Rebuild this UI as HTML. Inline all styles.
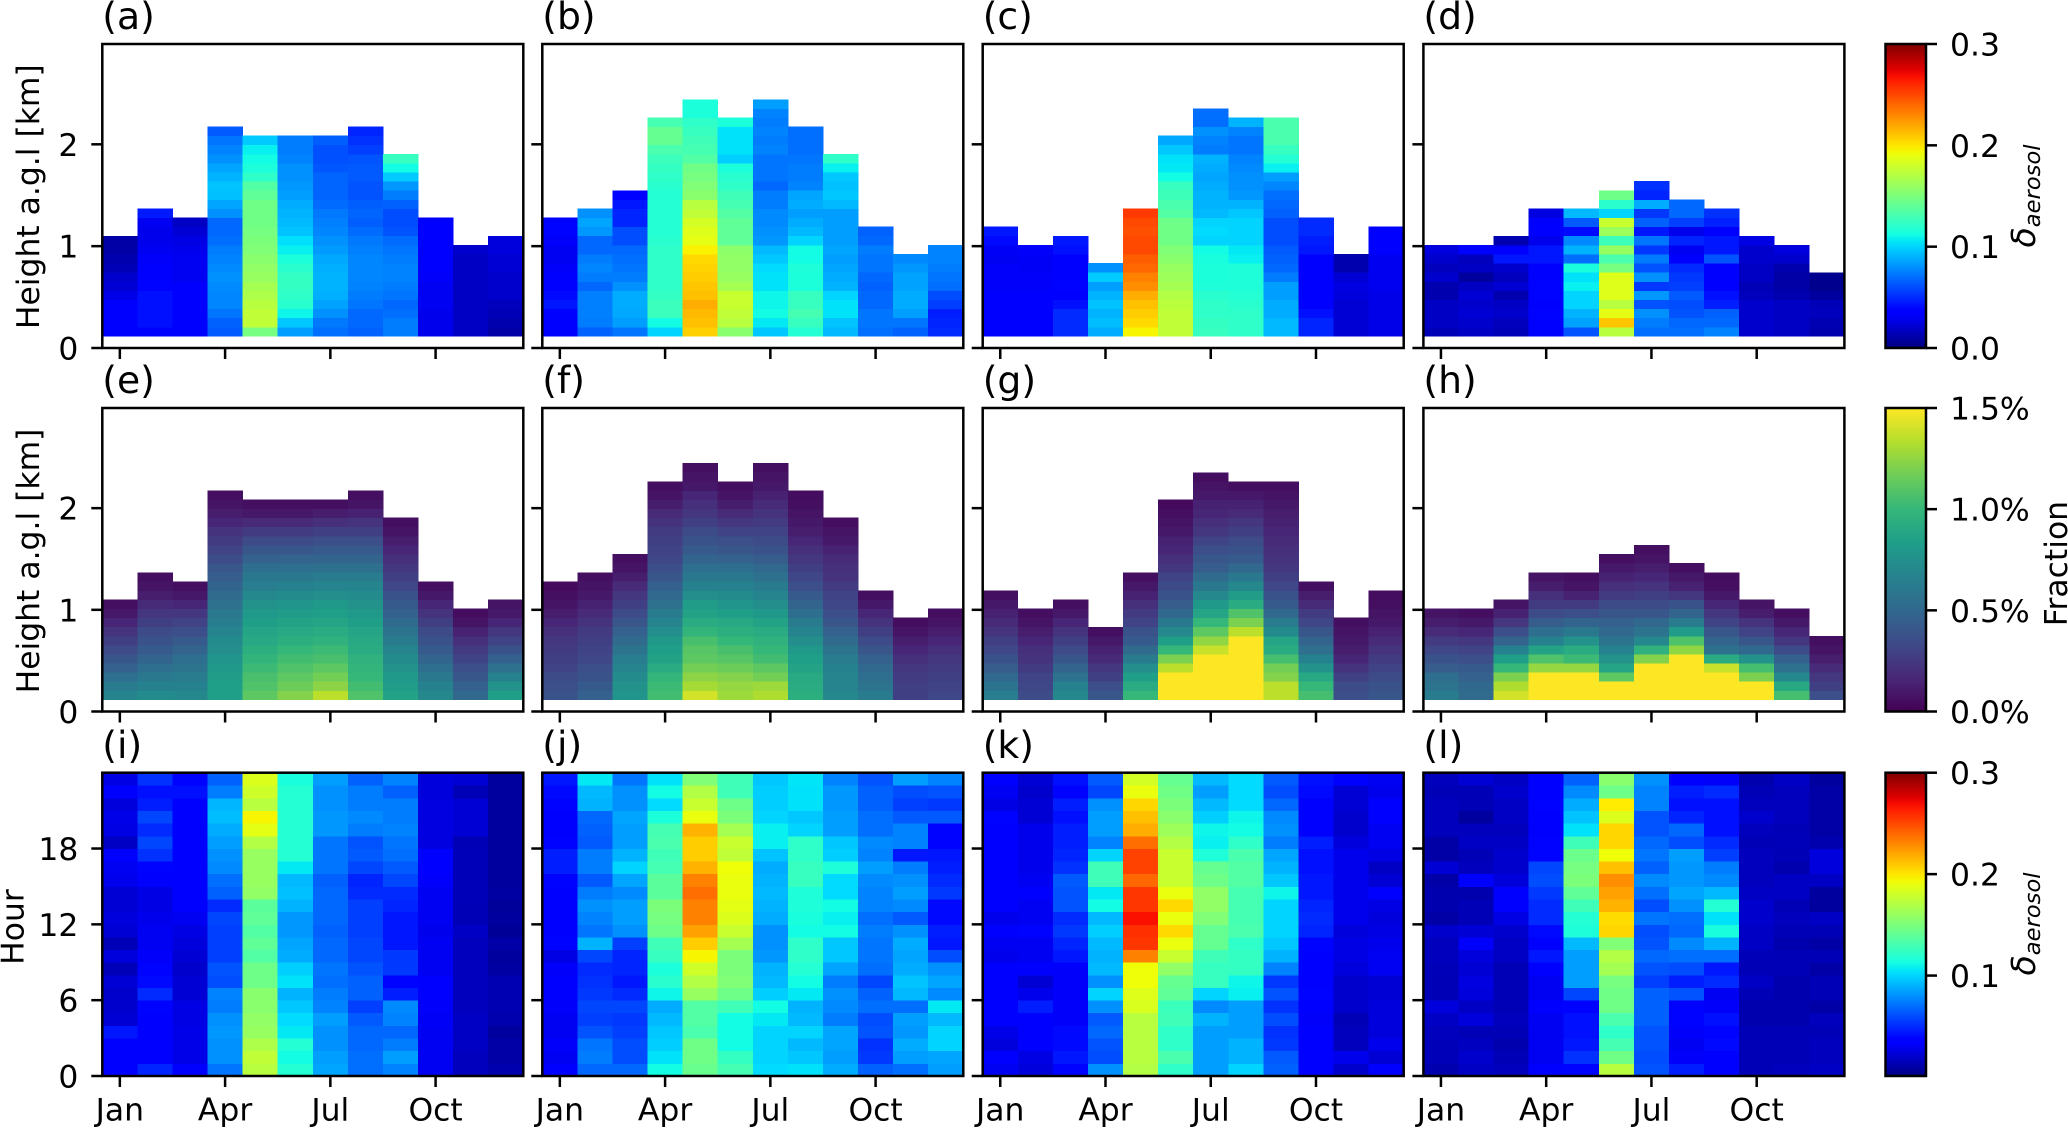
<!DOCTYPE html>
<html lang="en">
<head>
<meta charset="utf-8">
<title>Aerosol depolarization ratio seasonal panels</title>
<style>
html,body{margin:0;padding:0;background:#fff;width:2068px;height:1128px;overflow:hidden}
svg{display:block}
text{font-family:"DejaVu Sans","Liberation Sans",sans-serif;fill:#000}
</style>
</head>
<body>
<svg id="figure" xmlns="http://www.w3.org/2000/svg" width="2068" height="1128" viewBox="0 0 2068 1128">
<defs id="defs"></defs>
</svg>
<script>
// ---------- shared categories and tick labels ----------
const monthTickIndex = [0, 3, 6, 9];
const monthTickLabels = ["Jan", "Apr", "Jul", "Oct"];
const heightTicks = [0, 1, 2];
const hourTicks = [0, 6, 12, 18];
const panelLetters = ["(a)","(b)","(c)","(d)","(e)","(f)","(g)","(h)","(i)","(j)","(k)","(l)"];
const deltaTicks = [0.0, 0.1, 0.2, 0.3];
const deltaTickLabels = ["0.0", "0.1", "0.2", "0.3"];
const fractionTicks = [0, 0.5, 1.0, 1.5];
const fractionTickLabels = ["0.0%", "0.5%", "1.0%", "1.5%"];
const hourlyDeltaTicks = [0.1, 0.2, 0.3];
const hourlyDeltaTickLabels = ["0.1", "0.2", "0.3"];

// ---------- row 1: delta_aerosol x 1000, per month, per height bin (bottom to top) ----------
const panelA = [
[33,33,33,33,27,22,20,14,12,10,10],
[36,42,42,42,42,38,36,35,32,30,28,28,30,45],
[33,33,33,33,33,33,30,30,30,28,26,22,18],
[64,66,72,77,77,78,80,78,76,74,70,68,68,80,86,94,95,90,86,80,76,72,64],
[148,175,175,172,168,165,160,158,155,152,150,148,146,146,146,140,135,122,115,112,108,97],
[84,96,110,120,122,124,124,120,115,108,103,95,92,90,88,84,82,80,80,76,74,74],
[70,73,80,85,89,90,90,89,87,83,80,77,75,73,69,67,67,67,63,61,61,65],
[66,68,68,72,74,76,77,77,77,75,73,69,65,67,65,62,62,64,64,62,56,52,48],
[74,74,70,68,72,74,76,76,74,72,69,62,60,60,66,74,82,97,112,125],
[28,28,28,30,30,30,32,34,35,36,36,36,34],
[18,18,18,18,18,18,18,18,18,20],
[10,12,14,16,20,20,20,22,22,24,24]
];
const panelB = [
[34,34,34,44,40,36,36,32,30,30,32,38,38],
[66,74,75,75,75,68,74,77,74,68,68,82,86,80],
[72,84,87,88,88,80,74,72,70,68,60,60,48,48,44,38],
[100,112,126,126,124,122,122,122,122,122,120,118,118,118,118,118,120,122,124,126,132,142,142,130],
[207,212,214,218,212,210,208,206,204,196,188,186,182,175,172,155,152,148,146,135,130,128,125,122,115,115],
[155,172,175,178,178,165,160,158,158,156,140,140,140,135,130,128,122,120,115,98,104,104,104,115],
[96,106,112,110,110,104,104,102,96,92,82,80,78,78,74,74,68,72,72,72,76,74,76,74,76,84],
[118,125,130,125,125,115,115,116,112,112,100,92,88,84,88,86,76,74,74,72,70,70,70],
[92,95,104,104,100,90,88,86,84,86,84,84,84,84,92,96,94,96,108,122],
[70,72,72,68,68,66,68,72,72,74,68,66],
[66,72,84,88,88,85,85,82,78],
[50,48,46,56,60,70,72,74,76,76]
];
const panelC = [
[33,33,33,33,33,32,32,32,30,31,40,44],
[33,33,33,33,33,32,32,31,31,32],
[50,50,50,42,36,38,36,36,36,42,44],
[88,93,90,95,90,84,97,80],
[195,204,208,212,218,228,232,240,243,250,250,248,250,255],
[175,175,175,173,170,165,162,160,155,152,146,146,145,135,132,127,125,112,106,104,96,87],
[125,124,122,122,120,116,115,115,114,112,100,102,100,92,90,90,88,86,88,90,74,76,80,70,70],
[122,122,122,120,118,116,116,116,108,106,100,100,100,96,90,82,80,80,78,76,72,72,76,90],
[92,92,88,88,84,84,74,68,66,64,60,60,60,66,68,70,77,84,108,118,125,132,132,132],
[48,48,42,36,34,36,36,36,36,44,46,50,50],
[22,22,22,22,24,25,22,12,12],
[27,27,27,27,27,29,29,29,29,33,35,35]
];
const panelD = [
[14,18,18,18,12,12,20,16,20,24],
[18,20,22,20,22,18,8,18,16,34],
[15,16,20,18,12,22,16,20,44,34,12],
[34,34,38,34,38,38,33,33,44,44,28,33,33,25],
[62,85,90,100,100,108,104,114,70,90,78,40,64,92],
[172,210,188,172,186,186,186,148,132,160,127,162,178,100,120,145],
[70,74,80,62,82,54,80,62,74,54,72,44,66,54,88,48,52],
[70,68,62,60,64,56,54,50,36,30,48,28,56,68,68],
[76,68,66,46,42,36,36,35,62,44,44,33,47,52],
[20,20,20,20,16,14,18,18,20,20,26],
[18,18,18,18,12,10,10,12,20,24],
[12,13,16,15,8,4,4]
];

// ---------- row 2: fraction (percent x 100), per month, per height bin (bottom to top) ----------
const panelE = [
[68,62,54,46,40,34,28,22,16,10,6],
[72,66,60,54,48,42,38,34,28,24,18,12,8,6],
[70,66,62,58,54,48,42,36,30,24,16,10,6],
[84,84,82,80,78,74,72,68,64,60,56,52,48,44,40,34,30,26,22,16,12,8,6],
[112,108,106,102,98,94,90,88,84,80,76,70,64,60,54,46,40,34,26,18,10,6],
[122,116,112,108,104,100,94,90,86,82,78,72,66,60,54,48,40,34,26,18,10,6],
[135,124,118,112,106,102,96,92,88,84,80,74,68,62,56,48,42,36,28,20,12,6],
[108,104,100,98,96,92,90,88,84,80,76,72,68,62,56,48,42,36,28,22,14,8,6],
[86,82,80,76,72,68,62,58,52,46,42,38,32,28,24,20,16,12,8,6],
[70,66,60,54,48,42,38,34,28,22,16,10,6],
[50,46,40,36,30,26,20,14,8,5],
[84,76,66,56,46,38,30,24,16,10,8]
];
const panelF = [
[38,36,34,30,28,26,24,20,16,12,8,6,4],
[46,42,38,36,32,30,28,26,22,18,14,10,8,6],
[78,76,72,68,64,58,52,46,40,34,28,24,18,12,8,6],
[104,102,98,92,86,84,80,74,68,62,56,50,46,40,36,32,30,28,26,22,18,12,8,6],
[140,130,124,118,112,110,106,98,92,86,82,74,66,60,54,48,42,38,34,28,24,20,16,10,8,6],
[128,126,122,116,110,106,100,94,90,84,78,72,66,60,54,46,40,36,30,24,18,12,8,6],
[132,128,118,112,104,100,96,92,86,80,74,68,62,56,50,44,38,34,30,26,22,18,14,10,8,6],
[94,92,90,86,84,80,74,68,62,54,48,42,36,32,28,24,20,16,12,10,8,6,5],
[70,68,68,66,62,58,52,46,40,36,32,30,26,22,20,18,14,10,8,5],
[62,58,54,50,46,40,34,28,22,16,10,6],
[28,28,26,24,20,16,12,8,5],
[32,30,28,26,24,20,16,12,8,6]
];
const panelG = [
[64,58,50,44,38,32,28,22,18,14,10,6],
[34,32,30,26,22,20,16,12,8,6],
[70,66,56,48,40,34,28,22,16,10,6],
[40,36,28,24,18,14,10,6],
[100,92,84,74,62,52,42,38,30,26,20,14,10,6],
[150,150,150,135,120,100,84,70,60,50,44,38,34,30,24,20,16,14,10,8,6,4],
[150,150,150,150,150,138,125,112,100,88,80,70,60,52,44,40,36,30,24,20,16,14,10,8,6],
[150,150,150,150,150,150,150,135,120,108,92,82,70,60,50,42,38,34,28,24,18,14,10,6],
[135,135,122,118,105,92,88,72,62,50,42,38,32,28,24,22,20,18,16,14,12,10,8,6],
[105,100,90,76,66,55,48,40,32,26,18,12,6],
[36,34,28,22,16,12,10,8,6],
[40,38,34,30,26,22,18,14,10,8,6,5]
];
const panelH = [
[62,58,54,44,38,32,26,18,12,8],
[52,50,46,42,36,30,24,16,10,6],
[140,132,120,100,84,66,48,36,24,14,8],
[150,150,150,126,108,86,66,54,44,34,26,20,12,8],
[150,150,150,126,102,92,76,60,48,36,26,14,8,6],
[150,150,112,88,76,66,58,50,46,40,34,26,20,14,10,6],
[150,150,150,150,122,96,70,58,50,40,34,28,22,16,12,8,6],
[150,150,150,150,150,125,108,82,62,48,38,24,14,10,6],
[150,150,150,138,92,56,48,40,30,24,16,10,6,5],
[150,150,120,105,76,50,40,30,22,12,8],
[105,90,70,56,46,34,24,16,10,6],
[36,28,24,18,12,8,6]
];

// ---------- row 3: delta_aerosol x 1000, per month, per hour 0..23 ----------
const panelI = [
[34,33,35,44,22,20,20,22,15,24,14,22,24,22,22,28,30,36,18,26,27,24,36,26],
[48,36,36,33,34,38,50,40,38,32,30,30,28,26,26,34,38,52,58,50,58,46,42,52],
[34,27,27,27,26,26,22,22,20,22,24,26,30,33,33,36,33,34,36,36,36,34,42,38],
[72,80,80,82,80,74,76,60,62,56,56,56,58,50,66,70,78,80,84,88,93,91,74,66],
[172,175,168,160,158,155,155,145,145,135,140,135,140,138,158,160,160,160,170,188,195,172,180,185],
[118,112,118,106,102,96,90,104,98,88,86,82,82,90,94,92,106,118,118,118,118,118,118,114],
[86,84,80,80,84,76,74,70,72,68,68,66,68,68,68,66,72,72,72,82,82,80,80,84],
[70,70,68,68,64,56,66,66,62,58,58,56,56,56,50,48,58,64,62,74,78,74,74,66],
[76,84,74,68,76,78,46,38,54,54,44,44,44,48,50,58,64,70,72,76,74,74,66,76],
[30,30,30,30,31,32,33,33,30,30,30,28,30,30,30,32,34,35,25,25,25,25,24,24],
[16,16,18,18,18,16,16,16,16,16,16,18,14,14,15,15,15,15,14,22,22,22,14,22],
[12,10,10,8,12,13,13,13,9,8,10,6,8,7,9,8,8,8,8,8,8,8,8,8]
];
const panelJ = [
[36,30,32,30,30,32,34,34,32,26,38,34,36,34,34,38,46,46,38,36,36,38,40,44],
[68,74,72,62,56,58,54,52,50,58,90,72,76,80,74,64,74,74,64,66,68,90,92,106],
[68,60,60,56,54,58,50,44,48,48,56,80,84,84,78,86,100,90,84,84,86,80,80,72],
[112,104,98,96,92,88,110,120,115,125,128,145,148,150,138,138,130,128,132,130,115,102,112,104],
[143,146,146,132,135,135,160,170,180,195,208,222,232,232,238,232,216,208,208,216,190,178,170,152],
[130,124,112,112,112,128,145,152,150,150,165,178,185,188,190,190,192,175,178,165,150,145,128,128],
[102,100,100,100,106,112,98,92,90,82,80,80,88,90,92,90,88,95,108,108,100,98,98,96],
[104,96,92,100,92,90,106,112,118,122,122,112,114,116,116,125,125,122,122,100,96,104,104,105],
[88,84,86,86,74,78,80,74,86,96,96,112,108,112,102,102,116,98,96,84,84,82,82,76],
[66,54,52,62,60,70,66,58,70,72,72,74,70,76,76,78,84,76,78,70,70,66,66,62],
[70,84,88,82,84,70,92,95,88,86,88,80,64,78,84,80,74,44,76,76,64,56,60,84],
[84,86,100,100,92,106,78,86,80,60,44,46,40,40,54,50,46,44,38,38,64,54,62,76]
];
const panelK = [
[30,33,24,27,33,33,33,33,33,28,30,33,28,33,33,33,33,33,33,36,38,26,30,36],
[24,26,33,33,34,46,28,22,36,30,30,38,30,30,36,30,28,28,28,28,22,22,20,22],
[38,44,40,40,32,32,32,32,32,44,48,54,50,62,62,64,52,48,46,46,42,46,38,42],
[80,60,62,68,64,80,100,80,92,90,92,98,92,112,106,128,128,100,76,84,84,80,58,64],
[170,172,172,172,172,184,186,192,192,232,256,258,268,256,256,240,252,252,238,218,212,205,190,182],
[122,132,122,122,128,126,140,142,158,178,190,204,190,204,190,178,178,178,170,162,155,150,146,142],
[84,84,84,84,90,78,100,125,125,128,142,142,152,158,158,145,142,116,108,110,98,92,84,92],
[100,90,90,84,84,84,108,110,124,124,122,132,130,130,130,135,135,132,122,112,110,102,102,102],
[66,64,54,52,60,52,62,54,76,90,96,100,100,100,110,96,90,86,74,80,78,68,60,64],
[36,35,34,34,32,34,38,36,36,36,38,48,50,48,44,44,42,42,46,34,34,36,40,42],
[20,28,16,16,14,20,20,20,24,26,26,24,28,28,28,28,28,28,24,20,20,22,22,34],
[35,22,28,24,24,24,22,22,30,30,28,26,24,26,33,22,18,26,30,30,33,33,28,30]
];
const panelL = [
[12,15,15,16,18,24,14,14,15,16,16,20,10,12,12,10,22,10,10,16,16,16,14,16],
[18,20,17,14,24,18,24,25,22,24,32,22,14,14,12,34,16,14,18,16,8,14,14,22],
[16,14,12,14,16,14,14,14,14,18,18,20,26,33,35,24,20,20,18,16,18,18,20,18],
[34,30,30,30,30,34,30,30,36,44,34,40,50,50,54,60,58,38,38,33,33,38,33,33],
[38,52,44,42,42,38,58,84,84,84,92,116,118,128,140,150,148,144,128,104,95,88,78,66],
[172,146,130,122,132,146,146,148,165,170,152,205,203,216,222,228,212,192,205,205,185,198,145,155],
[62,60,62,62,66,66,66,56,62,68,62,60,72,60,70,78,66,72,68,62,62,76,76,80],
[46,32,30,32,38,38,62,46,60,70,78,68,70,80,86,82,82,84,60,68,48,42,46,35],
[33,34,40,38,42,32,30,50,44,70,90,114,104,118,92,78,74,56,50,42,42,42,50,32],
[14,14,14,14,12,12,14,18,14,15,18,18,20,20,18,16,16,16,14,16,20,16,14,12],
[16,14,14,14,12,12,12,12,14,14,12,14,16,14,18,18,12,14,15,14,16,16,16,18],
[18,16,16,14,16,10,14,14,10,14,10,14,18,8,8,18,24,24,12,10,10,10,10,8]
];

const rowOnePanels = [panelA, panelB, panelC, panelD];
const rowTwoPanels = [panelE, panelF, panelG, panelH];
const rowThreePanels = [panelI, panelJ, panelK, panelL];

// ---------- layout ----------
const SVGNS = "http://www.w3.org/2000/svg";
const fig = document.getElementById("figure");
const defs = document.getElementById("defs");
const COLUMN_LEFT = [102.3, 542.3, 982.7, 1423.4];
const AXIS_WIDTH = 421;
const ROW_TOP = [44, 408, 772.7];
const ROW_BOTTOM = [348, 711.5, 1076];
const TITLE_BASE = [29, 393, 758];
const BAR_LEFT = 1885.5, BAR_RIGHT = 1926;
const TICK_FONT = 31.4, TITLE_FONT = 37.7, STROKE = 2.5, TICK_LEN = 11;

// height bins of the profile rows (km)
const BIN_BASE_KM = 0.118, BIN_STEP_KM = 0.0894, HEIGHT_MAX_KM = 2.985, MONTHS = 12, HOURS = 24;

function make(tag, attrs, parent) {
  const el = document.createElementNS(SVGNS, tag);
  for (const k in attrs) el.setAttribute(k, attrs[k]);
  (parent || fig).appendChild(el);
  return el;
}
function lerp(a, b, t) { return a + (b - a) * t; }
function piecewise(points, t) {
  if (t <= points[0][0]) return points[0][1];
  for (let i = 1; i < points.length; i++) {
    if (t <= points[i][0]) {
      const p = points[i - 1], q = points[i];
      return lerp(p[1], q[1], (t - p[0]) / (q[0] - p[0]));
    }
  }
  return points[points.length - 1][1];
}
const JET_R = [[0,0],[0.35,0],[0.66,1],[0.89,1],[1,0.5]];
const JET_G = [[0,0],[0.125,0],[0.375,1],[0.64,1],[0.91,0],[1,0]];
const JET_B = [[0,0.5],[0.11,1],[0.34,1],[0.65,0],[1,0]];
function jet(t) {
  const r = Math.round(255 * piecewise(JET_R, t));
  const g = Math.round(255 * piecewise(JET_G, t));
  const b = Math.round(255 * piecewise(JET_B, t));
  return "rgb(" + r + "," + g + "," + b + ")";
}
const VIRIDIS = [[68,1,84],[72,40,120],[62,74,137],[49,104,142],[38,130,142],[31,158,137],[53,183,121],[109,205,89],[180,222,44],[253,231,37]];
function viridis(t) {
  const c = Math.max(0, Math.min(1, t)) * (VIRIDIS.length - 1);
  const i = Math.min(Math.floor(c), VIRIDIS.length - 2), f = c - i;
  return "rgb(" + [0,1,2].map(function (k) { return Math.round(lerp(VIRIDIS[i][k], VIRIDIS[i + 1][k], f)); }).join(",") + ")";
}
function deltaColor(v) { return jet(v / 300); }
function fractionColor(v) { return viridis(v / 150); }

function xScale(left) { return function (m) { return left + (m / MONTHS) * AXIS_WIDTH; }; }
function heightScale(row) {
  return function (km) { return ROW_BOTTOM[row] - (km / HEIGHT_MAX_KM) * (ROW_BOTTOM[row] - ROW_TOP[row]); };
}
function hourScale(row) {
  return function (h) { return ROW_BOTTOM[row] - (h / HOURS) * (ROW_BOTTOM[row] - ROW_TOP[row]); };
}

function drawTickLabel(txt, x, y, anchor, parent) {
  const t = make("text", { x: x, y: y, "font-size": TICK_FONT, "text-anchor": anchor }, parent);
  
  
  t.textContent = txt;
  return t;
}

function drawPanel(values, row, col, letter, colorFn, kind) {
  const left = COLUMN_LEFT[col];
  const x = xScale(left);
  const top = ROW_TOP[row], bottom = ROW_BOTTOM[row];
  const y = kind === "hour" ? hourScale(row) : heightScale(row);
  const g = make("g", {});
  
  

  const cells = make("g", { "shape-rendering": "crispEdges" }, g);
  
  
  values.forEach(function (column, m) {
    column.forEach(function (v, k) {
      const y0 = kind === "hour" ? y(k) : y(BIN_BASE_KM + k * BIN_STEP_KM);
      const y1 = kind === "hour" ? y(k + 1) : y(BIN_BASE_KM + (k + 1) * BIN_STEP_KM);
      const r = make("rect", {
        x: x(m).toFixed(2),
        y: y1.toFixed(2),
        width: (x(m + 1) - x(m) + 0.4).toFixed(2),
        height: (y0 - y1 + 0.4).toFixed(2),
        fill: colorFn(v)
      }, cells);
      
      
    });
  });

  const frame = make("rect", { x: left, y: top, width: AXIS_WIDTH, height: bottom - top, fill: "none", stroke: "#000", "stroke-width": STROKE }, g);
  
  

  monthTickIndex.forEach(function (m, i) {
    const tx = x(m + 0.5);
    const tick = make("line", { x1: tx, x2: tx, y1: bottom, y2: bottom + TICK_LEN, stroke: "#000", "stroke-width": STROKE }, g);
    
    
    if (row === 2) drawTickLabel(monthTickLabels[i], tx, bottom + 44.7, "middle", g);
  });

  const ticks = kind === "hour" ? hourTicks : heightTicks;
  ticks.forEach(function (v) {
    const ty = y(v);
    const tick = make("line", { x1: left - TICK_LEN, x2: left, y1: ty, y2: ty, stroke: "#000", "stroke-width": STROKE }, g);
    
    
    if (col === 0) drawTickLabel(String(v), left - 24, ty + 11.5, "end", g);
  });

  const title = make("text", { x: left, y: TITLE_BASE[row], "font-size": TITLE_FONT }, g);
  
  
  title.textContent = letter;
}

function drawColorbar(row, colorFn, lo, hi, ticks, labels, gradId) {
  const top = ROW_TOP[row], bottom = ROW_BOTTOM[row];
  const grad = make("linearGradient", { id: gradId, x1: 0, y1: 1, x2: 0, y2: 0 }, defs);
  const N = 48;
  for (let i = 0; i <= N; i++) {
    make("stop", { offset: i / N, "stop-color": colorFn(i / N) }, grad);
  }
  const g = make("g", {});
  
  
  const bar = make("rect", { x: BAR_LEFT, y: top, width: BAR_RIGHT - BAR_LEFT, height: bottom - top, fill: "url(#" + gradId + ")", stroke: "#000", "stroke-width": STROKE }, g);
  
  
  ticks.forEach(function (v, i) {
    const ty = bottom - ((v - lo) / (hi - lo)) * (bottom - top);
    const tick = make("line", { x1: BAR_RIGHT, x2: BAR_RIGHT + TICK_LEN, y1: ty, y2: ty, stroke: "#000", "stroke-width": STROKE }, g);
    
    
    drawTickLabel(labels[i], BAR_RIGHT + 24, ty + 11.5, "start", g);
  });
}

function rotatedLabel(txt, x, y, name) {
  const t = make("text", { transform: "translate(" + x + "," + y + ") rotate(-90)", "font-size": TICK_FONT, "text-anchor": "middle" });
  
  
  t.textContent = txt;
}
function deltaLabel(x, y, name) {
  const t = make("text", { transform: "translate(" + x + "," + y + ") rotate(-90)", "font-size": TICK_FONT, "text-anchor": "middle", "font-style": "italic" });
  
  
  const a = make("tspan", { "font-size": TICK_FONT * 1.06 }, t);
  a.textContent = "δ";
  const b = make("tspan", { "font-size": TICK_FONT * 0.72, dy: 5 }, t);
  b.textContent = "aerosol";
}

// ---------- draw ----------
rowOnePanels.forEach(function (p, c) { drawPanel(p, 0, c, panelLetters[c], deltaColor, "height"); });
rowTwoPanels.forEach(function (p, c) { drawPanel(p, 1, c, panelLetters[c + 4], fractionColor, "height"); });
rowThreePanels.forEach(function (p, c) { drawPanel(p, 2, c, panelLetters[c + 8], deltaColor, "hour"); });

drawColorbar(0, jet, 0, 0.3, deltaTicks, deltaTickLabels, "bar-delta-height");
drawColorbar(1, viridis, 0, 1.5, fractionTicks, fractionTickLabels, "bar-fraction");
drawColorbar(2, function (t) { return jet(0.003 + t * 0.997); }, 0.001, 0.3, hourlyDeltaTicks, hourlyDeltaTickLabels, "bar-delta-hour");

rotatedLabel("Height a.g.l [km]", 39, 196.7, "y-axis-title-top");
rotatedLabel("Height a.g.l [km]", 39, 561, "y-axis-title-middle");
rotatedLabel("Hour", 23.4, 927, "y-axis-title-bottom");
deltaLabel(2035, 196, "colorbar-title-delta-height");
rotatedLabel("Fraction", 2067, 563.6, "colorbar-title-fraction");
deltaLabel(2035, 924, "colorbar-title-delta-hour");
</script>
</body>
</html>
